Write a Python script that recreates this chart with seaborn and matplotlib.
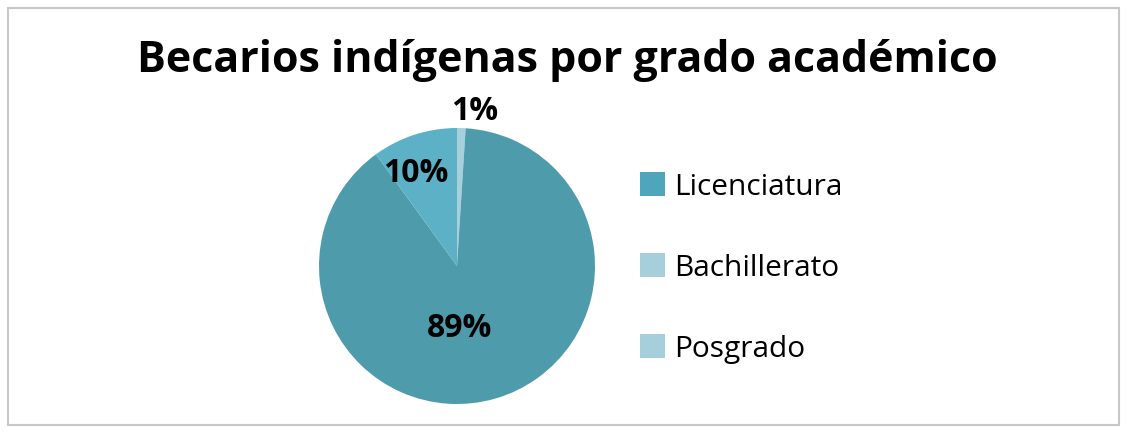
import matplotlib
matplotlib.use("Agg")
import matplotlib.pyplot as plt
import matplotlib.patches as mpatches
import seaborn as sns

# Data
categorias = ['Licenciatura', 'Bachillerato', 'Posgrado']
porcentajes = [89, 10, 1]
etiquetas = ['89%', '10%', '1%']
colores_pie = ['#4E9BAC', '#5CB1C6', '#A8D0DC']
colores_leyenda = ['#4FA6BC', '#A7CFDB', '#A7CFDB']
# drawing order of the slices, clockwise from 12 o'clock
orden = [2, 0, 1]

sns.set_style("white")
plt.rcParams['font.family'] = ['Open Sans', 'DejaVu Sans']
plt.rcParams['text.color'] = 'black'

fig = plt.figure(figsize=(11.27, 4.33), dpi=100)
W, H = 1127, 433

# frame around the chart
fig.patches.append(mpatches.Rectangle((8 / W, 8 / H), 1111 / W, 417 / H,
                                      transform=fig.transFigure, fill=False,
                                      edgecolor='#C8C8C8', linewidth=1.5))

# pie axes placed so the circle sits where the reference has it
cx, cy, r = 457, 266, 138
ax = fig.add_axes([(cx - r) / W, (H - cy - r) / H, 2 * r / W, 2 * r / H])
ax.pie([porcentajes[i] for i in orden], colors=[colores_pie[i] for i in orden],
       startangle=90, counterclock=False, radius=1,
       wedgeprops=dict(linewidth=0))
ax.set_xlim(-1, 1)
ax.set_ylim(-1, 1)
ax.set_aspect('equal')
ax.axis('off')

# percentage labels
pos_etiquetas = [(0.02, -0.45), (-0.30, 0.67), (0.13, 1.12)]
for txt, (x, y) in zip(etiquetas, pos_etiquetas):
    ax.text(x, y, txt, ha='center', va='center', fontsize=23,
            fontweight='bold', color='black', clip_on=False)

fig.text(567 / W, 1 - 61 / H, 'Becarios indígenas por grado académico',
         ha='center', va='center', fontsize=31, fontweight='bold', color='black')

handles = [mpatches.Patch(facecolor=c, edgecolor='none') for c in colores_leyenda]
leg = fig.legend(handles, categorias, loc='center left',
                 bbox_to_anchor=(613 / W, 1 - 268 / H), frameon=False,
                 fontsize=21.5, labelspacing=1.73, handlelength=0.85,
                 handleheight=0.85, handletextpad=0.3)
for t in leg.get_texts():
    t.set_color('black')

fig.savefig('out.png', dpi=100)
